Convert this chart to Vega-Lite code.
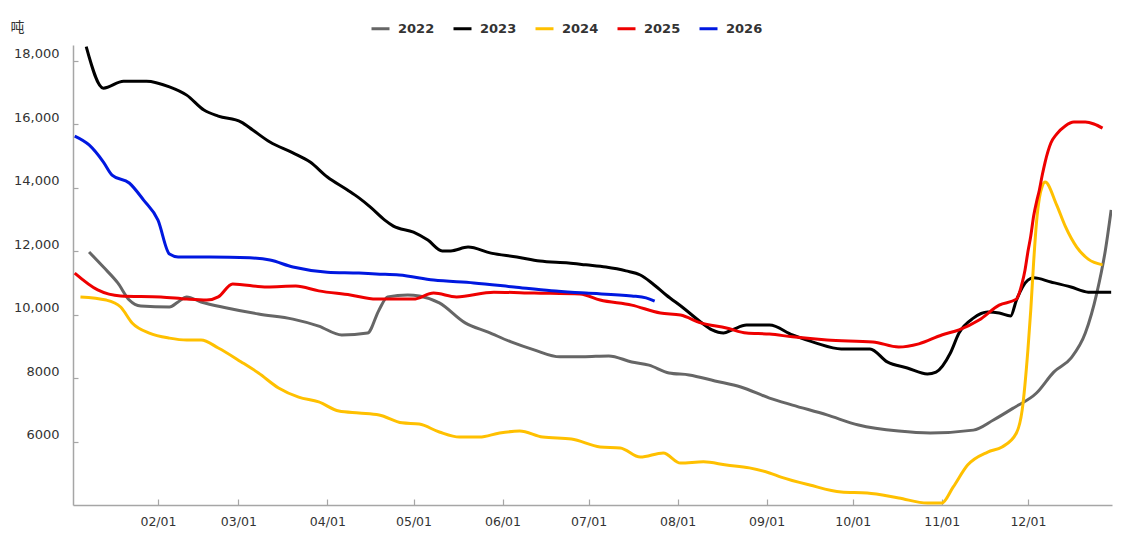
{
  "$schema": "https://vega.github.io/schema/vega-lite/v6.json",
  "width": 1039,
  "height": 460,
  "autosize": {"type": "none"},
  "padding": {"left": 73, "top": 45, "right": 16, "bottom": 44},
  "background": "#ffffff",
  "config": {"view": {"stroke": null}, "font": "DejaVu Sans"},
  "data": {
    "values": [
      {"year": "2022", "date": "2001-01-08", "tons": 11975},
      {"year": "2022", "date": "2001-01-13", "tons": 11500},
      {"year": "2022", "date": "2001-01-18", "tons": 11000},
      {"year": "2022", "date": "2001-01-22", "tons": 10460},
      {"year": "2022", "date": "2001-01-26", "tons": 10270},
      {"year": "2022", "date": "2001-02-05", "tons": 10240},
      {"year": "2022", "date": "2001-02-08", "tons": 10400},
      {"year": "2022", "date": "2001-02-11", "tons": 10560},
      {"year": "2022", "date": "2001-02-16", "tons": 10400},
      {"year": "2022", "date": "2001-02-25", "tons": 10210},
      {"year": "2022", "date": "2001-03-08", "tons": 10020},
      {"year": "2022", "date": "2001-03-20", "tons": 9860},
      {"year": "2022", "date": "2001-03-29", "tons": 9640},
      {"year": "2022", "date": "2001-04-06", "tons": 9360},
      {"year": "2022", "date": "2001-04-15", "tons": 9420},
      {"year": "2022", "date": "2001-04-19", "tons": 10150},
      {"year": "2022", "date": "2001-04-22", "tons": 10560},
      {"year": "2022", "date": "2001-04-29", "tons": 10620},
      {"year": "2022", "date": "2001-05-03", "tons": 10590},
      {"year": "2022", "date": "2001-05-10", "tons": 10370},
      {"year": "2022", "date": "2001-05-19", "tons": 9740},
      {"year": "2022", "date": "2001-05-27", "tons": 9450},
      {"year": "2022", "date": "2001-06-04", "tons": 9140},
      {"year": "2022", "date": "2001-06-12", "tons": 8890},
      {"year": "2022", "date": "2001-06-21", "tons": 8670},
      {"year": "2022", "date": "2001-06-29", "tons": 8670},
      {"year": "2022", "date": "2001-07-08", "tons": 8700},
      {"year": "2022", "date": "2001-07-16", "tons": 8510},
      {"year": "2022", "date": "2001-07-22", "tons": 8410},
      {"year": "2022", "date": "2001-07-29", "tons": 8160},
      {"year": "2022", "date": "2001-08-05", "tons": 8100},
      {"year": "2022", "date": "2001-08-14", "tons": 7910},
      {"year": "2022", "date": "2001-08-23", "tons": 7720},
      {"year": "2022", "date": "2001-09-02", "tons": 7370},
      {"year": "2022", "date": "2001-09-10", "tons": 7150},
      {"year": "2022", "date": "2001-09-22", "tons": 6840},
      {"year": "2022", "date": "2001-10-03", "tons": 6520},
      {"year": "2022", "date": "2001-10-17", "tons": 6330},
      {"year": "2022", "date": "2001-10-28", "tons": 6270},
      {"year": "2022", "date": "2001-11-12", "tons": 6360},
      {"year": "2022", "date": "2001-11-19", "tons": 6680},
      {"year": "2022", "date": "2001-11-26", "tons": 7060},
      {"year": "2022", "date": "2001-12-04", "tons": 7530},
      {"year": "2022", "date": "2001-12-10", "tons": 8190},
      {"year": "2022", "date": "2001-12-16", "tons": 8630},
      {"year": "2022", "date": "2001-12-21", "tons": 9420},
      {"year": "2022", "date": "2001-12-25", "tons": 10680},
      {"year": "2022", "date": "2001-12-28", "tons": 12040},
      {"year": "2022", "date": "2001-12-30", "tons": 13300},

      {"year": "2023", "date": "2001-01-07", "tons": 18450},
      {"year": "2023", "date": "2001-01-13", "tons": 17140},
      {"year": "2023", "date": "2001-01-20", "tons": 17360},
      {"year": "2023", "date": "2001-01-28", "tons": 17360},
      {"year": "2023", "date": "2001-02-05", "tons": 17180},
      {"year": "2023", "date": "2001-02-11", "tons": 16920},
      {"year": "2023", "date": "2001-02-17", "tons": 16450},
      {"year": "2023", "date": "2001-02-22", "tons": 16260},
      {"year": "2023", "date": "2001-03-02", "tons": 16070},
      {"year": "2023", "date": "2001-03-06", "tons": 15820},
      {"year": "2023", "date": "2001-03-12", "tons": 15440},
      {"year": "2023", "date": "2001-03-20", "tons": 15100},
      {"year": "2023", "date": "2001-03-26", "tons": 14810},
      {"year": "2023", "date": "2001-04-01", "tons": 14340},
      {"year": "2023", "date": "2001-04-08", "tons": 13930},
      {"year": "2023", "date": "2001-04-12", "tons": 13680},
      {"year": "2023", "date": "2001-04-16", "tons": 13390},
      {"year": "2023", "date": "2001-04-21", "tons": 12980},
      {"year": "2023", "date": "2001-04-24", "tons": 12790},
      {"year": "2023", "date": "2001-05-01", "tons": 12600},
      {"year": "2023", "date": "2001-05-06", "tons": 12350},
      {"year": "2023", "date": "2001-05-11", "tons": 12010},
      {"year": "2023", "date": "2001-05-14", "tons": 12010},
      {"year": "2023", "date": "2001-05-20", "tons": 12130},
      {"year": "2023", "date": "2001-05-28", "tons": 11940},
      {"year": "2023", "date": "2001-06-06", "tons": 11820},
      {"year": "2023", "date": "2001-06-14", "tons": 11690},
      {"year": "2023", "date": "2001-06-24", "tons": 11630},
      {"year": "2023", "date": "2001-06-30", "tons": 11570},
      {"year": "2023", "date": "2001-07-07", "tons": 11500},
      {"year": "2023", "date": "2001-07-14", "tons": 11380},
      {"year": "2023", "date": "2001-07-19", "tons": 11250},
      {"year": "2023", "date": "2001-07-23", "tons": 11000},
      {"year": "2023", "date": "2001-07-28", "tons": 10620},
      {"year": "2023", "date": "2001-08-03", "tons": 10210},
      {"year": "2023", "date": "2001-08-09", "tons": 9770},
      {"year": "2023", "date": "2001-08-13", "tons": 9520},
      {"year": "2023", "date": "2001-08-17", "tons": 9420},
      {"year": "2023", "date": "2001-08-20", "tons": 9520},
      {"year": "2023", "date": "2001-08-25", "tons": 9670},
      {"year": "2023", "date": "2001-09-02", "tons": 9670},
      {"year": "2023", "date": "2001-09-10", "tons": 9360},
      {"year": "2023", "date": "2001-09-18", "tons": 9110},
      {"year": "2023", "date": "2001-09-27", "tons": 8920},
      {"year": "2023", "date": "2001-10-07", "tons": 8920},
      {"year": "2023", "date": "2001-10-13", "tons": 8510},
      {"year": "2023", "date": "2001-10-20", "tons": 8320},
      {"year": "2023", "date": "2001-10-27", "tons": 8130},
      {"year": "2023", "date": "2001-10-30", "tons": 8190},
      {"year": "2023", "date": "2001-11-04", "tons": 8790},
      {"year": "2023", "date": "2001-11-07", "tons": 9420},
      {"year": "2023", "date": "2001-11-12", "tons": 9890},
      {"year": "2023", "date": "2001-11-17", "tons": 10080},
      {"year": "2023", "date": "2001-11-21", "tons": 10050},
      {"year": "2023", "date": "2001-11-25", "tons": 9960},
      {"year": "2023", "date": "2001-11-27", "tons": 10460},
      {"year": "2023", "date": "2001-12-01", "tons": 11090},
      {"year": "2023", "date": "2001-12-03", "tons": 11160},
      {"year": "2023", "date": "2001-12-09", "tons": 11030},
      {"year": "2023", "date": "2001-12-16", "tons": 10870},
      {"year": "2023", "date": "2001-12-22", "tons": 10710},
      {"year": "2023", "date": "2001-12-30", "tons": 10710},

      {"year": "2024", "date": "2001-01-05", "tons": 10560},
      {"year": "2024", "date": "2001-01-14", "tons": 10460},
      {"year": "2024", "date": "2001-01-19", "tons": 10240},
      {"year": "2024", "date": "2001-01-23", "tons": 9740},
      {"year": "2024", "date": "2001-01-29", "tons": 9420},
      {"year": "2024", "date": "2001-02-05", "tons": 9260},
      {"year": "2024", "date": "2001-02-11", "tons": 9200},
      {"year": "2024", "date": "2001-02-16", "tons": 9200},
      {"year": "2024", "date": "2001-02-22", "tons": 8950},
      {"year": "2024", "date": "2001-03-02", "tons": 8510},
      {"year": "2024", "date": "2001-03-08", "tons": 8160},
      {"year": "2024", "date": "2001-03-15", "tons": 7690},
      {"year": "2024", "date": "2001-03-22", "tons": 7400},
      {"year": "2024", "date": "2001-03-29", "tons": 7250},
      {"year": "2024", "date": "2001-04-05", "tons": 6960},
      {"year": "2024", "date": "2001-04-12", "tons": 6900},
      {"year": "2024", "date": "2001-04-19", "tons": 6840},
      {"year": "2024", "date": "2001-04-27", "tons": 6590},
      {"year": "2024", "date": "2001-05-03", "tons": 6550},
      {"year": "2024", "date": "2001-05-10", "tons": 6300},
      {"year": "2024", "date": "2001-05-17", "tons": 6140},
      {"year": "2024", "date": "2001-05-24", "tons": 6140},
      {"year": "2024", "date": "2001-05-31", "tons": 6270},
      {"year": "2024", "date": "2001-06-07", "tons": 6330},
      {"year": "2024", "date": "2001-06-15", "tons": 6140},
      {"year": "2024", "date": "2001-06-25", "tons": 6080},
      {"year": "2024", "date": "2001-07-05", "tons": 5830},
      {"year": "2024", "date": "2001-07-12", "tons": 5800},
      {"year": "2024", "date": "2001-07-19", "tons": 5510},
      {"year": "2024", "date": "2001-07-27", "tons": 5640},
      {"year": "2024", "date": "2001-08-02", "tons": 5320},
      {"year": "2024", "date": "2001-08-10", "tons": 5360},
      {"year": "2024", "date": "2001-08-18", "tons": 5260},
      {"year": "2024", "date": "2001-08-26", "tons": 5170},
      {"year": "2024", "date": "2001-09-02", "tons": 5010},
      {"year": "2024", "date": "2001-09-06", "tons": 4880},
      {"year": "2024", "date": "2001-09-16", "tons": 4630},
      {"year": "2024", "date": "2001-09-27", "tons": 4410},
      {"year": "2024", "date": "2001-10-06", "tons": 4380},
      {"year": "2024", "date": "2001-10-17", "tons": 4220},
      {"year": "2024", "date": "2001-10-27", "tons": 4060},
      {"year": "2024", "date": "2001-11-01", "tons": 4060},
      {"year": "2024", "date": "2001-11-05", "tons": 4570},
      {"year": "2024", "date": "2001-11-10", "tons": 5260},
      {"year": "2024", "date": "2001-11-17", "tons": 5670},
      {"year": "2024", "date": "2001-11-22", "tons": 5830},
      {"year": "2024", "date": "2001-11-27", "tons": 6270},
      {"year": "2024", "date": "2001-11-29", "tons": 6990},
      {"year": "2024", "date": "2001-12-01", "tons": 8890},
      {"year": "2024", "date": "2001-12-02", "tons": 10150},
      {"year": "2024", "date": "2001-12-03", "tons": 11660},
      {"year": "2024", "date": "2001-12-04", "tons": 12920},
      {"year": "2024", "date": "2001-12-05", "tons": 13680},
      {"year": "2024", "date": "2001-12-06", "tons": 14050},
      {"year": "2024", "date": "2001-12-07", "tons": 14180},
      {"year": "2024", "date": "2001-12-11", "tons": 13460},
      {"year": "2024", "date": "2001-12-14", "tons": 12790},
      {"year": "2024", "date": "2001-12-18", "tons": 12130},
      {"year": "2024", "date": "2001-12-22", "tons": 11750},
      {"year": "2024", "date": "2001-12-27", "tons": 11570},

      {"year": "2025", "date": "2001-01-03", "tons": 11310},
      {"year": "2025", "date": "2001-01-11", "tons": 10780},
      {"year": "2025", "date": "2001-01-19", "tons": 10590},
      {"year": "2025", "date": "2001-02-02", "tons": 10560},
      {"year": "2025", "date": "2001-02-11", "tons": 10490},
      {"year": "2025", "date": "2001-02-18", "tons": 10460},
      {"year": "2025", "date": "2001-02-22", "tons": 10560},
      {"year": "2025", "date": "2001-02-27", "tons": 10970},
      {"year": "2025", "date": "2001-03-11", "tons": 10870},
      {"year": "2025", "date": "2001-03-21", "tons": 10900},
      {"year": "2025", "date": "2001-03-29", "tons": 10750},
      {"year": "2025", "date": "2001-04-09", "tons": 10620},
      {"year": "2025", "date": "2001-04-18", "tons": 10490},
      {"year": "2025", "date": "2001-05-01", "tons": 10490},
      {"year": "2025", "date": "2001-05-08", "tons": 10680},
      {"year": "2025", "date": "2001-05-16", "tons": 10560},
      {"year": "2025", "date": "2001-05-29", "tons": 10710},
      {"year": "2025", "date": "2001-06-12", "tons": 10680},
      {"year": "2025", "date": "2001-06-28", "tons": 10650},
      {"year": "2025", "date": "2001-07-05", "tons": 10460},
      {"year": "2025", "date": "2001-07-16", "tons": 10300},
      {"year": "2025", "date": "2001-07-26", "tons": 10050},
      {"year": "2025", "date": "2001-08-02", "tons": 9990},
      {"year": "2025", "date": "2001-08-09", "tons": 9740},
      {"year": "2025", "date": "2001-08-18", "tons": 9580},
      {"year": "2025", "date": "2001-08-25", "tons": 9420},
      {"year": "2025", "date": "2001-09-02", "tons": 9390},
      {"year": "2025", "date": "2001-09-10", "tons": 9300},
      {"year": "2025", "date": "2001-09-22", "tons": 9200},
      {"year": "2025", "date": "2001-10-08", "tons": 9140},
      {"year": "2025", "date": "2001-10-17", "tons": 8980},
      {"year": "2025", "date": "2001-10-24", "tons": 9080},
      {"year": "2025", "date": "2001-11-01", "tons": 9360},
      {"year": "2025", "date": "2001-11-07", "tons": 9520},
      {"year": "2025", "date": "2001-11-14", "tons": 9830},
      {"year": "2025", "date": "2001-11-21", "tons": 10300},
      {"year": "2025", "date": "2001-11-27", "tons": 10490},
      {"year": "2025", "date": "2001-11-29", "tons": 11000},
      {"year": "2025", "date": "2001-11-30", "tons": 11410},
      {"year": "2025", "date": "2001-12-01", "tons": 11980},
      {"year": "2025", "date": "2001-12-02", "tons": 12480},
      {"year": "2025", "date": "2001-12-03", "tons": 13110},
      {"year": "2025", "date": "2001-12-04", "tons": 13550},
      {"year": "2025", "date": "2001-12-05", "tons": 13930},
      {"year": "2025", "date": "2001-12-06", "tons": 14400},
      {"year": "2025", "date": "2001-12-07", "tons": 14810},
      {"year": "2025", "date": "2001-12-09", "tons": 15410},
      {"year": "2025", "date": "2001-12-11", "tons": 15690},
      {"year": "2025", "date": "2001-12-14", "tons": 15950},
      {"year": "2025", "date": "2001-12-17", "tons": 16070},
      {"year": "2025", "date": "2001-12-21", "tons": 16070},
      {"year": "2025", "date": "2001-12-24", "tons": 16010},
      {"year": "2025", "date": "2001-12-27", "tons": 15880},

      {"year": "2026", "date": "2001-01-03", "tons": 15630},
      {"year": "2026", "date": "2001-01-08", "tons": 15350},
      {"year": "2026", "date": "2001-01-13", "tons": 14810},
      {"year": "2026", "date": "2001-01-16", "tons": 14400},
      {"year": "2026", "date": "2001-01-22", "tons": 14150},
      {"year": "2026", "date": "2001-01-27", "tons": 13610},
      {"year": "2026", "date": "2001-02-01", "tons": 12980},
      {"year": "2026", "date": "2001-02-05", "tons": 11910},
      {"year": "2026", "date": "2001-02-08", "tons": 11820},
      {"year": "2026", "date": "2001-02-19", "tons": 11820},
      {"year": "2026", "date": "2001-03-05", "tons": 11790},
      {"year": "2026", "date": "2001-03-12", "tons": 11720},
      {"year": "2026", "date": "2001-03-20", "tons": 11500},
      {"year": "2026", "date": "2001-04-01", "tons": 11340},
      {"year": "2026", "date": "2001-04-12", "tons": 11310},
      {"year": "2026", "date": "2001-04-18", "tons": 11280},
      {"year": "2026", "date": "2001-04-26", "tons": 11250},
      {"year": "2026", "date": "2001-05-08", "tons": 11090},
      {"year": "2026", "date": "2001-05-22", "tons": 11000},
      {"year": "2026", "date": "2001-06-05", "tons": 10870},
      {"year": "2026", "date": "2001-06-18", "tons": 10750},
      {"year": "2026", "date": "2001-06-30", "tons": 10680},
      {"year": "2026", "date": "2001-07-16", "tons": 10590},
      {"year": "2026", "date": "2001-07-21", "tons": 10530},
      {"year": "2026", "date": "2001-07-24", "tons": 10430}
    ]
  },
  "mark": {"type": "line", "strokeWidth": 3, "interpolate": "monotone", "clip": true},
  "encoding": {
    "x": {
      "field": "date",
      "type": "temporal",
      "scale": {
        "type": "utc",
        "domain": [
          {"year": 2001, "month": 1, "date": 2, "hours": 9, "minutes": 36, "utc": true},
          {"year": 2001, "month": 12, "date": 30, "hours": 7, "utc": true}
        ]
      },
      "axis": {
        "title": null,
        "values": [
          {"year": 2001, "month": 2, "date": 1, "utc": true},
          {"year": 2001, "month": 3, "date": 1, "utc": true},
          {"year": 2001, "month": 4, "date": 1, "utc": true},
          {"year": 2001, "month": 5, "date": 1, "utc": true},
          {"year": 2001, "month": 6, "date": 1, "utc": true},
          {"year": 2001, "month": 7, "date": 1, "utc": true},
          {"year": 2001, "month": 8, "date": 1, "utc": true},
          {"year": 2001, "month": 9, "date": 1, "utc": true},
          {"year": 2001, "month": 10, "date": 1, "utc": true},
          {"year": 2001, "month": 11, "date": 1, "utc": true},
          {"year": 2001, "month": 12, "date": 1, "utc": true}
        ],
        "format": "%m/%d",
        "grid": false,
        "domainColor": "#a6a6a6",
        "domainWidth": 1.5,
        "tickColor": "#a6a6a6",
        "tickWidth": 1.2,
        "tickSize": -6,
        "labelPadding": 16,
        "labelFont": "DejaVu Sans",
        "labelFontSize": 12.5,
        "labelColor": "#333333",
        "labelBaseline": "top"
      }
    },
    "y": {
      "field": "tons",
      "type": "quantitative",
      "scale": {"domain": [4000, 18500], "nice": false, "zero": false},
      "axis": {
        "title": "吨",
        "titleFont": "Noto Sans CJK SC",
        "titleFontSize": 14,
        "titleFontWeight": "normal",
        "titleColor": "#333333",
        "titleAngle": 0,
        "titleAlign": "left",
        "titleBaseline": "middle",
        "titleX": -63,
        "titleY": -18,
        "values": [6000, 8000, 10000, 12000, 14000, 16000, 18000],
        "labelExpr": "datum.value >= 10000 ? format(datum.value, ',') : format(datum.value, 'd')",
        "grid": false,
        "domainColor": "#a6a6a6",
        "domainWidth": 1.5,
        "tickColor": "#a6a6a6",
        "tickWidth": 1.2,
        "tickSize": -5,
        "labelPadding": 19,
        "labelFont": "DejaVu Sans",
        "labelFontSize": 13,
        "labelColor": "#333333",
        "labelBaseline": "alphabetic",
        "labelOffset": -3
      }
    },
    "color": {
      "field": "year",
      "type": "nominal",
      "scale": {
        "domain": ["2022", "2023", "2024", "2025", "2026"],
        "range": ["#666666", "#000000", "#FFC000", "#EE0000", "#0018E0"]
      },
      "legend": {
        "title": null,
        "orient": "none",
        "legendX": 297,
        "legendY": -27,
        "direction": "horizontal",
        "symbolType": "stroke",
        "symbolStrokeWidth": 3,
        "symbolSize": 324,
        "labelFont": "DejaVu Sans",
        "labelFontSize": 13,
        "labelFontWeight": "bold",
        "labelColor": "#333333",
        "labelOffset": 7,
        "columnPadding": 12
      }
    }
  }
}
